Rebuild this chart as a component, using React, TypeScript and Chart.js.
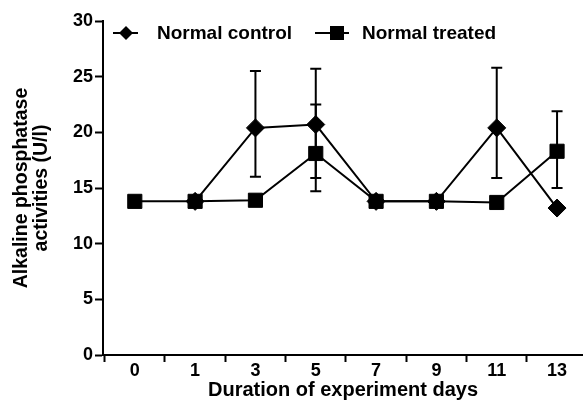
import React, { useEffect, useRef } from 'react';
import { Chart, registerables } from 'chart.js';

Chart.register(...registerables);

const days = ['0', '1', '3', '5', '7', '9', '11', '13'];
const controlValues: (number | null)[] = [null, 13.8, 20.4, 20.7, 13.8, 13.8, 20.4, 13.2];
const controlUpper: (number | null)[] = [null, null, 25.5, 25.7, null, null, 25.8, null];
const controlLower: (number | null)[] = [null, null, 16.0, 15.9, null, null, 15.9, null];
const treatedValues: (number | null)[] = [13.8, 13.8, 13.9, 18.1, 13.8, 13.8, 13.7, 18.3];
const treatedUpper: (number | null)[] = [null, null, null, 22.5, null, null, null, 21.9];
const treatedLower: (number | null)[] = [null, null, null, 14.7, null, null, null, 15.0];
const seriesNames = ['Normal control', 'Normal treated'];
const yMin = 0;
const yMax = 30;
const yStep = 5;

const FONT = '"Liberation Sans", Arial, Helvetica, sans-serif';

const errorBarPlugin = {
  id: 'errorBars',
  beforeDatasetsDraw(chart: any) {
    const ctx = chart.ctx;
    const xs = chart.scales.x;
    const ys = chart.scales.y;
    const bars = [
      { up: controlUpper, lo: controlLower },
      { up: treatedUpper, lo: treatedLower },
    ];
    ctx.save();
    ctx.strokeStyle = '#000';
    ctx.lineWidth = 2;
    bars.forEach((b) => {
      b.up.forEach((u, i) => {
        const l = b.lo[i];
        if (u == null || l == null) return;
        const x = xs.getPixelForValue(i);
        const yu = ys.getPixelForValue(u);
        const yl = ys.getPixelForValue(l);
        ctx.beginPath();
        ctx.moveTo(x, yu);
        ctx.lineTo(x, yl);
        ctx.moveTo(x - 5.5, yu);
        ctx.lineTo(x + 5.5, yu);
        ctx.moveTo(x - 5.5, yl);
        ctx.lineTo(x + 5.5, yl);
        ctx.stroke();
      });
    });
    ctx.restore();
  },
};

const legendPlugin = {
  id: 'customLegend',
  afterDraw(chart: any) {
    const ctx = chart.ctx;
    ctx.save();
    ctx.fillStyle = '#000';
    ctx.strokeStyle = '#000';
    ctx.lineWidth = 2;
    const y = 33;
    // item 1: diamond
    ctx.beginPath();
    ctx.moveTo(113, y);
    ctx.lineTo(138, y);
    ctx.stroke();
    ctx.beginPath();
    ctx.moveTo(126, y - 7);
    ctx.lineTo(133, y);
    ctx.lineTo(126, y + 7);
    ctx.lineTo(119, y);
    ctx.closePath();
    ctx.fill();
    // item 2: square
    ctx.beginPath();
    ctx.moveTo(315, y);
    ctx.lineTo(349, y);
    ctx.stroke();
    ctx.fillRect(330, y - 7, 14, 14);
    ctx.font = 'bold 19px ' + FONT;
    ctx.textBaseline = 'middle';
    ctx.textAlign = 'left';
    ctx.fillText(seriesNames[0], 157, y + 1);
    ctx.fillText(seriesNames[1], 362, y + 1);
    ctx.restore();
  },
};

export default function App() {
  const ref = useRef<HTMLCanvasElement | null>(null);
  useEffect(() => {
    document.body.style.margin = '0';
    const canvas = ref.current;
    if (!canvas) return;
    const chart = new Chart(canvas, {
      type: 'line',
      data: {
        datasets: [
          {
            label: seriesNames[0],
            data: controlValues.map((v, i) => ({ x: i, y: v })) as any,
            borderColor: '#000',
            backgroundColor: '#000',
            borderWidth: 2,
            pointStyle: 'rectRot',
            pointRadius: 9,
            pointBorderWidth: 1,
            pointBackgroundColor: '#000',
            pointBorderColor: '#000',
            spanGaps: false,
            clip: false,
          },
          {
            label: seriesNames[1],
            data: treatedValues.map((v, i) => ({ x: i, y: v })) as any,
            borderColor: '#000',
            backgroundColor: '#000',
            borderWidth: 2,
            pointStyle: 'rect',
            pointRadius: 10,
            pointBorderWidth: 1,
            pointBackgroundColor: '#000',
            pointBorderColor: '#000',
            clip: false,
          },
        ],
      },
      options: {
        responsive: false,
        animation: false,
        layout: { autoPadding: false, padding: { top: 21, left: 0, right: 0, bottom: 0 } },
        plugins: {
          legend: { display: false },
          tooltip: { enabled: false },
        },
        scales: {
          x: {
            type: 'linear',
            min: -0.527,
            max: 7.43,
            afterBuildTicks(scale: any) {
              const t: any[] = [];
              for (let i = 0; i < days.length; i++) {
                t.push({ value: i - 0.5 });
                t.push({ value: i });
              }
              scale.ticks = t;
            },
            afterFit(scale: any) {
              scale.height = 56;
              scale.paddingLeft = 0;
              scale.paddingRight = 0;
            },
            grid: {
              display: true,
              drawOnChartArea: false,
              drawTicks: true,
              tickLength: 7,
              tickWidth: 2,
              tickColor: (c: any) =>
                c.tick && Number.isInteger(c.tick.value) ? 'rgba(0,0,0,0)' : '#000',
            },
            border: { display: true, color: '#000', width: 2 },
            ticks: {
              autoSkip: false,
              maxRotation: 0,
              padding: -2,
              color: '#000',
              font: { family: FONT, size: 18, weight: 'bold' },
              callback: (v: any) => (Number.isInteger(v) ? days[v] : ''),
            },
            title: {
              display: true,
              text: 'Duration of experiment days',
              color: '#000',
              font: { family: FONT, size: 20, weight: 'bold', lineHeight: 1.2 },
              padding: { top: 0, bottom: 9 },
            },
          },
          y: {
            min: yMin,
            max: yMax,
            afterFit(scale: any) {
              scale.width = 103;
              scale.paddingTop = 0;
              scale.paddingBottom = 0;
            },
            grid: {
              display: true,
              drawOnChartArea: false,
              drawTicks: true,
              tickLength: 8,
              tickWidth: 2,
              tickColor: '#000',
            },
            border: { display: true, color: '#000', width: 2 },
            ticks: {
              stepSize: yStep,
              padding: 2,
              color: '#000',
              font: { family: FONT, size: 18, weight: 'bold' },
            },
            title: {
              display: true,
              text: ['Alkaline phosphatase', 'activities (U/l)'],
              color: '#000',
              font: { family: FONT, size: 19.5, weight: 'bold', lineHeight: 20 / 19.5 },
              padding: { top: 12, bottom: 0 },
            },
          },
        },
      } as any,
      plugins: [errorBarPlugin, legendPlugin],
    });
    return () => chart.destroy();
  }, []);
  return (
    <div style={{ width: 583, height: 411 }}>
      <canvas ref={ref} width={583} height={411} style={{ display: 'block' }} />
    </div>
  );
}
